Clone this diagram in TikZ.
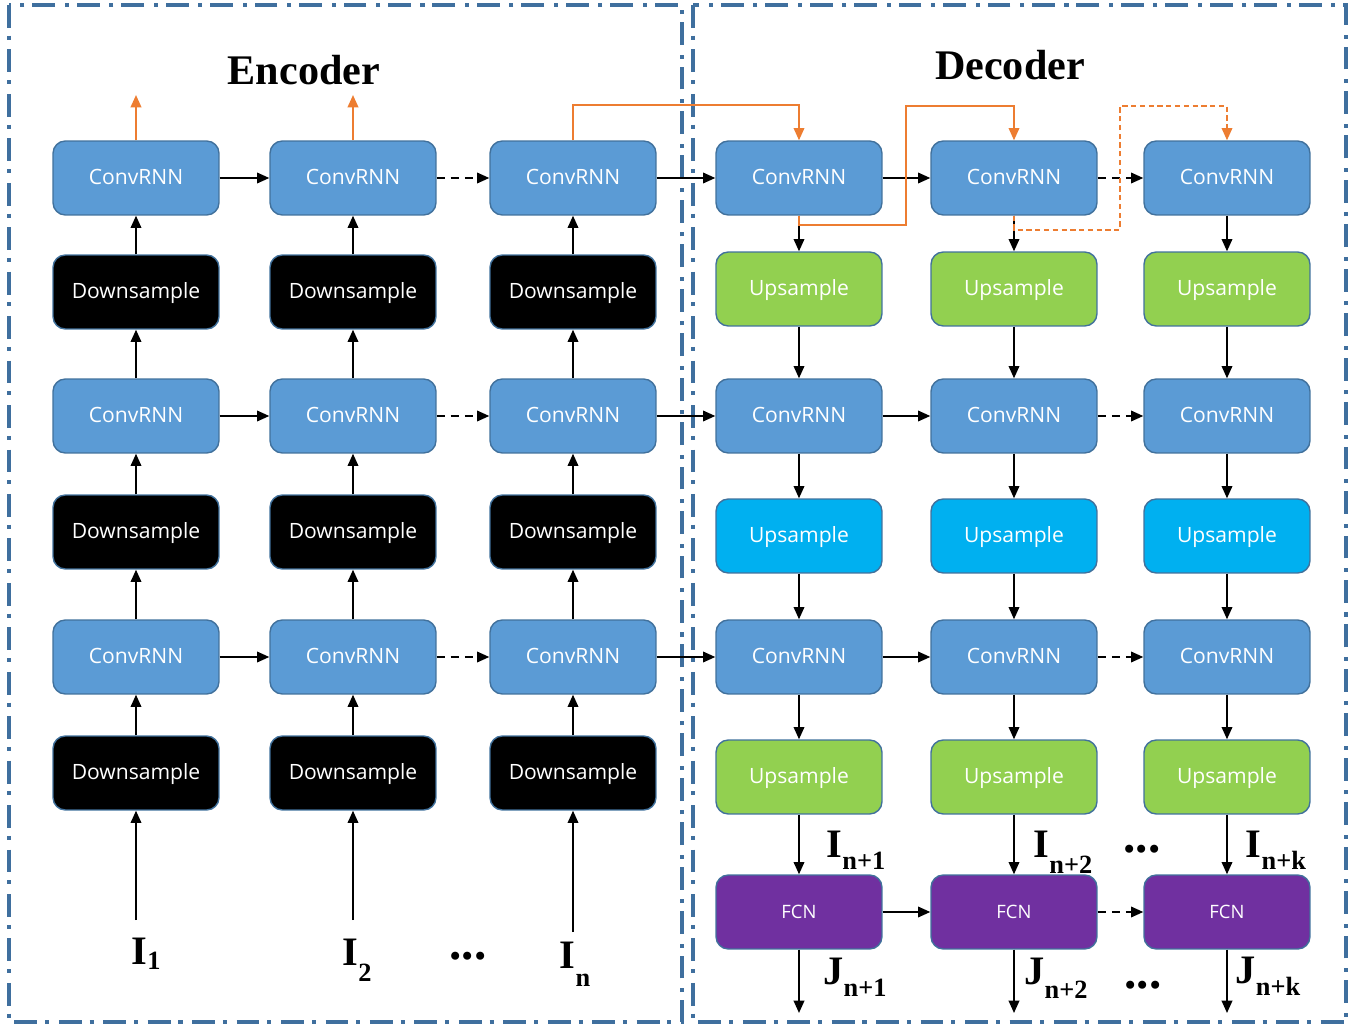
\documentclass[tikz,border=0pt]{standalone}
\usepackage{fontspec}
\setmainfont{Liberation Serif}
\newfontfamily\boxfont{Open Sans}
\usetikzlibrary{arrows.meta}

\definecolor{rnnblue}{HTML}{5B9BD5}
\definecolor{edgeblue}{HTML}{41719C}
\definecolor{upgreen}{HTML}{92D050}
\definecolor{upcyan}{HTML}{00B0F0}
\definecolor{fcnpurple}{HTML}{7030A0}
\definecolor{skiporange}{HTML}{ED7D31}
\definecolor{frameblue}{HTML}{3F6F9E}

% sequence label: letter with a lowered bold subscript
\newcommand{\seqlabel}[3][7pt]{{\bfseries\fontsize{23}{23}\selectfont #2\raisebox{-#1}{\fontsize{15}{15}\selectfont #3}}}
\newcommand{\seqdots}{{\bfseries\fontsize{28}{28}\selectfont ...}}

\begin{document}
\begin{tikzpicture}[x=0.02cm,y=-0.02cm]
  \tikzset{
    block/.style={draw=edgeblue, line width=0.8pt, rounded corners=7pt,
      minimum width=3.32cm, minimum height=1.48cm, inner sep=0pt, text=white,
      font=\boxfont\fontsize{12}{12}\selectfont, text height=0.71em, text depth=0pt},
    convrnn/.style={block, fill=rnnblue},
    downbox/.style={block, fill=black},
    upsgreen/.style={block, fill=upgreen},
    upscyan/.style={block, fill=upcyan},
    fcnbox/.style={block, fill=fcnpurple, font=\boxfont\fontsize{10.5}{10.5}\selectfont},
    flow/.style={line width=1.1pt, -{Triangle[length=7pt,width=6pt]}},
    flowdash/.style={flow, dash pattern=on 4.5pt off 3.5pt},
    skiplink/.style={draw=skiporange, line width=1.1pt, -{Triangle[length=7pt,width=6pt]}},
    frame/.style={draw=frameblue, line width=2.3pt, dash pattern=on 13pt off 4.5pt on 2.3pt off 5.5pt},
    title/.style={font=\bfseries\fontsize{24}{24}\selectfont}
  }
  \useasboundingbox (0,0) rectangle (1367,1027);

  % Dash-dot frames
  \draw[frame] (9,5) rectangle (682,1022);
  \draw[frame] (693,5) rectangle (1346,1022);
  \node[title] (enc) at (304,70) {Encoder};
  \node[title] (dec) at (1010,65) {Decoder};

  % Encoder columns
  \foreach \x [count=\c] in {136,353,573} {
    \node[convrnn] (ec1\c) at (\x,178) {ConvRNN};
    \node[downbox] (ed1\c) at (\x,292) {Downsample};
    \node[convrnn] (ec2\c) at (\x,416) {ConvRNN};
    \node[downbox] (ed2\c) at (\x,532) {Downsample};
    \node[convrnn] (ec3\c) at (\x,657) {ConvRNN};
    \node[downbox] (ed3\c) at (\x,773) {Downsample};
  }

  % Decoder columns
  \foreach \x [count=\c] in {799,1014,1227} {
    \node[convrnn] (dc1\c) at (\x,178) {ConvRNN};
    \node[upsgreen] (du1\c) at (\x,289) {Upsample};
    \node[convrnn] (dc2\c) at (\x,416) {ConvRNN};
    \node[upscyan] (du2\c) at (\x,536) {Upsample};
    \node[convrnn] (dc3\c) at (\x,657) {ConvRNN};
    \node[upsgreen] (du3\c) at (\x,777) {Upsample};
    \node[fcnbox] (fcn\c) at (\x,912) {FCN};
    \coordinate (out\c) at (\x,1013);
  }

  % Inputs and outputs of the encoder
  \coordinate (in1) at (136,920);
  \coordinate (in2) at (353,920);
  \coordinate (in3) at (573,932);
  \coordinate (up1) at (136,95);
  \coordinate (up2) at (353,95);

  % Vertical flow
  \foreach \c in {1,2,3} {
    \draw[flow] (in\c) -- (ed3\c);
    \draw[flow] (ed3\c) -- (ec3\c);
    \draw[flow] (ec3\c) -- (ed2\c);
    \draw[flow] (ed2\c) -- (ec2\c);
    \draw[flow] (ec2\c) -- (ed1\c);
    \draw[flow] (ed1\c) -- (ec1\c);
    \draw[flow] (dc1\c) -- (du1\c);
    \draw[flow] (du1\c) -- (dc2\c);
    \draw[flow] (dc2\c) -- (du2\c);
    \draw[flow] (du2\c) -- (dc3\c);
    \draw[flow] (dc3\c) -- (du3\c);
    \draw[flow] (du3\c) -- (fcn\c);
    \draw[flow] (fcn\c) -- (out\c);
  }

  % Horizontal flow
  \foreach \r in {1,2,3} {
    \draw[flow] (ec\r1) -- (ec\r2);
    \draw[flowdash] (ec\r2) -- (ec\r3);
    \draw[flow] (ec\r3) -- (dc\r1);
    \draw[flow] (dc\r1) -- (dc\r2);
    \draw[flowdash] (dc\r2) -- (dc\r3);
  }
  \draw[flow] (fcn1) -- (fcn2);
  \draw[flowdash] (fcn2) -- (fcn3);

  % Orange state links
  \draw[skiplink] (ec11) -- (up1);
  \draw[skiplink] (ec12) -- (up2);
  \draw[skiplink] (ec13.north) -- ++(0,-35) -| (dc11.north);
  \draw[skiplink] (dc11.south) -- ++(0,9) -| (906,106) -| (dc12.north);
  \draw[skiplink, dash pattern=on 3pt off 2pt] (dc12.south) -- ++(0,14) -| (1120,106) -| (dc13.north);

  % Sequence labels
  \node (li1) at (146,954) {\seqlabel[3pt]{I}{1}};
  \node (li2) at (357,960) {\seqlabel[9pt]{I}{2}};
  \node (li3) at (575,964) {\seqlabel[10pt]{I}{n}};
  \node (ldots) at (468,956) {\seqdots};
  \node (lo1) at (856,850) {\seqlabel{I}{n+1}};
  \node (lo2) at (1063,852) {\seqlabel[9pt]{I}{n+2}};
  \node (lo3) at (1276,850) {\seqlabel{I}{n+k}};
  \node (odots) at (1142,849) {\seqdots};
  \node (lj1) at (855,977) {\seqlabel{J}{n+1}};
  \node (lj2) at (1056,978) {\seqlabel[8pt]{J}{n+2}};
  \node (lj3) at (1268,976) {\seqlabel{J}{n+k}};
  \node (jdots) at (1143,985) {\seqdots};
\end{tikzpicture}
\end{document}
